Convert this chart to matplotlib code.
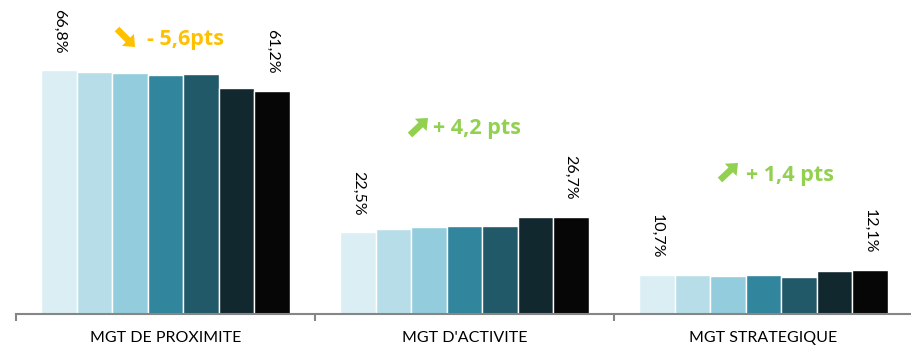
import matplotlib
matplotlib.use("Agg")
import matplotlib.pyplot as plt
from matplotlib.patches import FancyArrow
import numpy as np

categories = ["MGT DE PROXIMITE", "MGT D'ACTIVITE", "MGT STRATEGIQUE"]
# 7 successive periods per category (first and last labelled)
series = [
    [66.8, 66.2, 66.0, 65.4, 65.7, 61.8, 61.2],
    [22.5, 23.2, 23.7, 24.1, 24.1, 26.5, 26.7],
    [10.7, 10.7, 10.4, 10.6, 10.2, 11.7, 12.1],
]
first_labels = ["66,8%", "22,5%", "10,7%"]
last_labels = ["61,2%", "26,7%", "12,1%"]
evol_text = ["- 5,6pts", "+ 4,2 pts", "+ 1,4 pts"]
evol_up = [False, True, True]

colors = ["#DAEEF3", "#B7DEE8", "#93CDDD", "#31859C", "#215968", "#12282F", "#060606"]
orange = "#FFC000"
green = "#92D050"

plt.rcParams['font.family'] = ['Lato', 'DejaVu Sans']

W, H = 912, 347
fig = plt.figure(figsize=(W / 100, H / 100), dpi=100)
ax_left = 16 / W
ax_bottom = (H - 314) / H
ax = fig.add_axes([ax_left, ax_bottom, 1 - ax_left + 1 / W, 1 - ax_bottom])

SCALE = 3.65  # px per percent

n = len(categories)
k = len(colors)
bw = 0.1185
for j in range(k):
    xs = np.arange(n) + (j - (k - 1) / 2) * bw
    vals = [series[i][j] for i in range(n)]
    ax.bar(xs, vals, width=bw, color=colors[j], edgecolor="white", linewidth=1.0, zorder=2)

ax.set_xlim(-0.5, n - 0.5)
ax.set_ylim(0, 314 / SCALE)

def px_to_data(px, py):
    return (px - 16) / 299 - 0.5, (314 - py) / SCALE

for i in range(n):
    x0 = i - (k - 1) / 2 * bw
    x1 = i + (k - 1) / 2 * bw
    ax.annotate(first_labels[i], (x0, series[i][0]), xytext=(0, 12), textcoords="offset points",
                rotation=270, ha="center", va="bottom", fontsize=11.5, color="#000000")
    ax.annotate(last_labels[i], (x1, series[i][-1]), xytext=(0, 12), textcoords="offset points",
                rotation=270, ha="center", va="bottom", fontsize=11.5, color="#000000")

# evolution annotations: arrow boxes (pixel coords, top-left origin) and text anchors
arrow_box = [(115, 27, 135, 47), (408, 118, 428, 137), (718, 163, 738, 182)]
text_px = [(147, 40), (433, 129), (746, 175)]
for i in range(n):
    c = green if evol_up[i] else orange
    x0, y0, x1, y1 = arrow_box[i]
    if evol_up[i]:
        sx, sy, ex, ey = x0 + 2, H - (y1 - 2), x1, H - y0
    else:
        sx, sy, ex, ey = x0 + 2, H - (y0 + 2), x1, H - y1
    arr = FancyArrow(sx, sy, ex - sx, ey - sy, width=6.5, head_width=17, head_length=10,
                     length_includes_head=True, color=c, transform=None, linewidth=0)
    fig.patches.append(arr)
    tx_, ty_ = px_to_data(*text_px[i])
    ax.text(tx_, ty_, evol_text[i], family=["Open Sans", "DejaVu Sans"], fontsize=15.5,
            fontweight="bold", color=c, ha="left", va="center")

for s in ["top", "right", "left"]:
    ax.spines[s].set_visible(False)
ax.spines["bottom"].set_color("#868686")
ax.spines["bottom"].set_linewidth(1.5)
ax.set_yticks([])
ax.set_xticks([-0.5, 0.5, 1.5, 2.5])
ax.set_xticklabels([])
ax.tick_params(axis="x", which="major", length=5, width=1.5, color="#868686")
ax.set_xticks(np.arange(n), minor=True)
ax.set_xticklabels(categories, minor=True, fontsize=11.5, color="#000000")
ax.tick_params(axis="x", which="minor", length=0, pad=12)

fig.savefig("out.png", dpi=100)
